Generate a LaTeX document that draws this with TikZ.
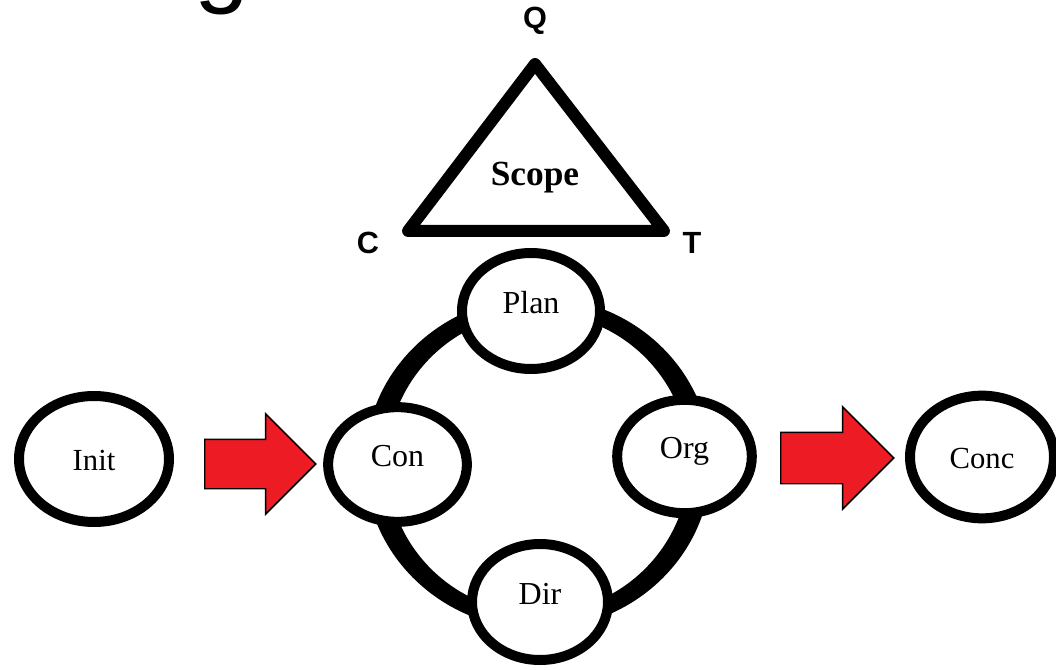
\documentclass[tikz,border=0pt]{standalone}
\usepackage{fontspec}
\setmainfont{Liberation Serif}
\newfontfamily\headfont{Liberation Sans}
\usetikzlibrary{shapes.geometric,shapes.arrows}
\definecolor{flowred}{RGB}{237,28,36}
\begin{document}
\begin{tikzpicture}[x=0.75pt,y=-0.75pt,
  stage/.style={ellipse, draw=black, fill=white, line width=7.5pt, inner sep=0pt,
    font=\fontsize{24}{26}\selectfont, text height=16pt, text depth=13pt},
  endstage/.style={stage, font=\fontsize{23}{25}\selectfont, text height=17pt, text depth=0pt},
  corner/.style={font=\headfont\bfseries\fontsize{23}{26}\selectfont, inner sep=0pt},
  flowarrow/.style={single arrow, draw=black, fill=flowred, line width=1.1pt,
    inner xsep=0pt, inner ysep=18pt, single arrow tip angle=90,
    single arrow head extend=19pt, anchor=tail},
]
\useasboundingbox (0,0) rectangle (1056,670);

% fragment of the heading that runs off the top edge
\node[font=\headfont\fontsize{74}{78}\selectfont, inner sep=0pt, anchor=base west]
  (heading) at (194,-5) {g};

% scope triangle with its three corner labels
\coordinate (q) at (535,64);
\coordinate (c) at (408,231);
\coordinate (t) at (664,231);
\draw[line width=9pt, line join=round] (q) -- (c) -- (t) -- cycle;
\node[font=\bfseries\fontsize{26.5}{29}\selectfont] (scope) at (535,178) {Scope};
\node[corner] (qlab) at (535,21) {Q};
\node[corner] (clab) at (368,243) {C};
\node[corner] (tlab) at (692,243) {T};

% cycle ring, thicker at the sides
\coordinate (hub) at (538,463);
\fill[even odd rule] (hub) ellipse [x radius=129.75pt, y radius=124.5pt]
  (hub) ellipse [x radius=113.25pt, y radius=112.5pt];

% stages on the ring
\node[stage, minimum width=103.5pt, minimum height=87pt] (plan) at (531,311) {Plan};
\node[stage, minimum width=104pt, minimum height=86pt] (con) at (397.5,464.5) {Con};
\node[stage, minimum width=101pt, minimum height=85pt] (org) at (684.5,456.5) {Org};
\node[stage, minimum width=102pt, minimum height=87pt] (dir) at (540,602) {Dir};

% start and end stages
\node[endstage, minimum width=112.5pt, minimum height=94.5pt] (init) at (94,459) {Init};
\node[endstage, minimum width=108pt, minimum height=92pt] (conc) at (982,457) {Conc};

% flow arrows
\node[flowarrow, minimum height=83.25pt] (toCon) at (204,464) {};
\node[flowarrow, minimum height=84.75pt, inner ysep=18.75pt] (toConc) at (780,458) {};
\end{tikzpicture}
\end{document}
